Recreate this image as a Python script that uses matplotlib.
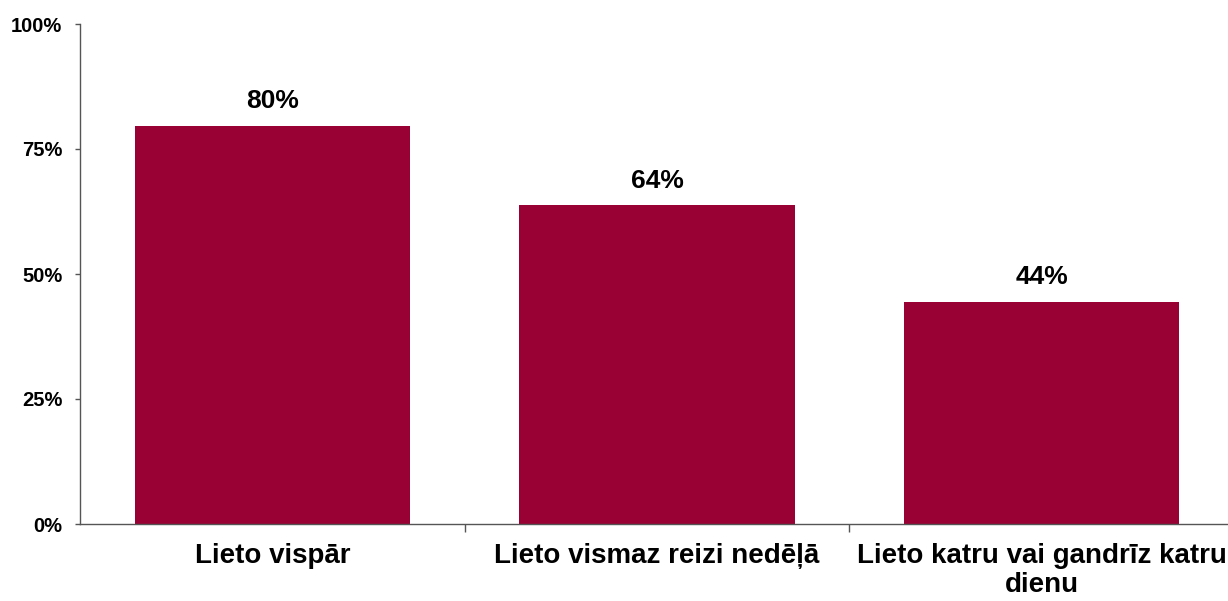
import numpy as np
import matplotlib.pyplot as plt
from matplotlib.ticker import FixedLocator

# Usage share by frequency
categories = ["Lieto vispār", "Lieto vismaz reizi nedēļā", "Lieto katru vai gandrīz katru\ndienu"]
values = [79.6, 63.8, 44.4]
value_labels = ["80%", "64%", "44%"]
y_ticks = [0, 25, 50, 75, 100]
y_tick_labels = ["0%", "25%", "50%", "75%", "100%"]

plt.rcParams['font.family'] = ['Liberation Sans', 'DejaVu Sans']

fig = plt.figure(figsize=(12.28, 6.01), dpi=100)
ax = fig.add_axes([80 / 1228, 1 - 524 / 601, 1154 / 1228, 500 / 601])

x = np.arange(len(categories))
ax.bar(x, values, width=0.715, color="#990033", edgecolor="none", zorder=2)

for xi, v, lab in zip(x, values, value_labels):
    ax.annotate(lab, (xi, v), xytext=(0, 9), textcoords="offset points",
                ha="center", va="bottom", fontsize=19, fontweight="bold")

ax.set_xlim(-0.5, len(categories) - 0.5)
ax.set_ylim(0, 100)
ax.set_yticks(y_ticks)
ax.set_yticklabels(y_tick_labels, fontsize=14.5, fontweight="bold")
ax.set_xticks(x)
ax.set_xticklabels(categories, fontsize=20, fontweight="bold", linespacing=1.15)
ax.tick_params(axis="x", length=0, pad=14)
ax.xaxis.set_minor_locator(FixedLocator([0.5, 1.5]))
ax.tick_params(axis="x", which="minor", length=6, color="#555555", width=1)
ax.tick_params(axis="y", length=3.6, color="#555555", width=1, pad=9)

for s in ["top", "right"]:
    ax.spines[s].set_visible(False)
for s in ["left", "bottom"]:
    ax.spines[s].set_color("#555555")
    ax.spines[s].set_linewidth(1)

fig.savefig("out.png", dpi=100)
